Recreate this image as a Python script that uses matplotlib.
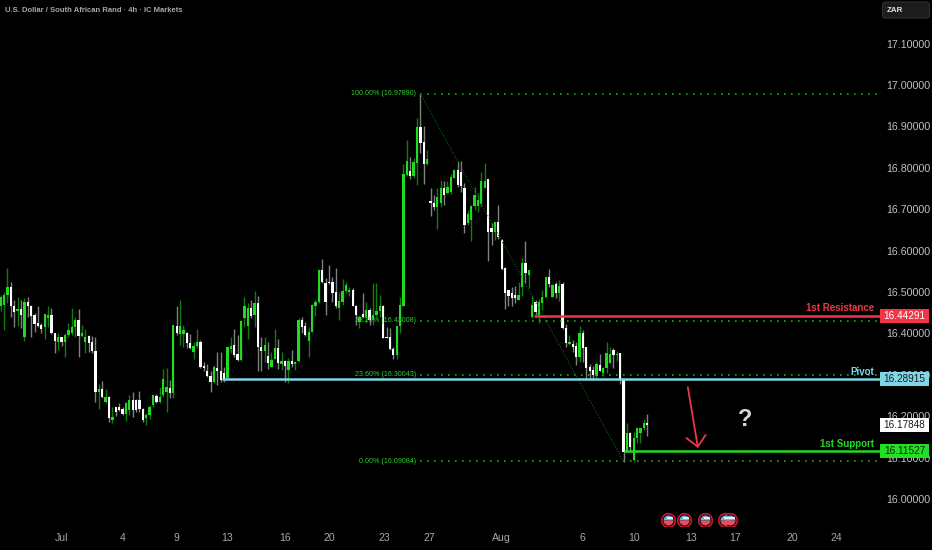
import matplotlib
matplotlib.use("Agg")
import matplotlib.pyplot as plt
from matplotlib.patches import Rectangle, FancyBboxPatch
from matplotlib.transforms import IdentityTransform
import numpy as np

plt.rcParams['font.family'] = ['Liberation Sans', 'DejaVu Sans']

# 4h candles, one value per bar
opens = [16.465,16.469,16.493,16.513,16.465,16.453,16.458,16.392,16.475,16.465,
         16.444,16.424,16.420,16.415,16.436,16.444,16.400,16.380,16.392,16.378,
         16.396,16.402,16.416,16.432,16.394,16.380,16.394,16.378,16.358,16.259,
         16.266,16.234,16.246,16.191,16.221,16.223,16.217,16.205,16.215,16.238,
         16.238,16.238,16.217,16.195,16.203,16.227,16.249,16.235,16.251,16.259,
         16.267,16.255,16.418,16.399,16.399,16.402,16.376,16.356,16.370,16.380,
         16.321,16.310,16.297,16.283,16.316,16.308,16.305,16.292,16.362,16.372,
         16.350,16.336,16.436,16.418,16.461,16.444,16.473,16.368,16.358,16.345,
         16.318,16.337,16.364,16.326,16.334,16.312,16.334,16.326,16.334,16.432,
         16.418,16.382,16.404,16.465,16.477,16.552,16.521,16.525,16.523,16.501,
         16.461,16.477,16.503,16.501,16.505,16.467,16.428,16.447,16.440,16.457,
         16.432,16.444,16.453,16.467,16.392,16.391,16.362,16.348,16.418,16.466,
         16.783,16.793,16.779,16.812,16.898,16.862,16.809,16.720,16.716,16.706,
         16.714,16.750,16.738,16.742,16.776,16.795,16.791,16.750,16.666,16.674,
         16.708,16.708,16.713,16.750,16.772,16.654,16.646,16.670,16.626,16.557,
         16.505,16.497,16.493,16.481,16.513,16.571,16.541,16.440,16.477,16.444,
         16.474,16.487,16.537,16.489,16.519,16.497,16.519,16.412,16.374,16.374,
         16.370,16.344,16.402,16.366,16.318,16.312,16.296,16.324,16.304,16.316,
         16.328,16.360,16.348,16.352,16.288,16.117,16.160,16.093,16.147,16.159,
         16.171,16.183]
highs = [16.493,16.501,16.557,16.525,16.481,16.489,16.481,16.485,16.489,16.469,
         16.450,16.465,16.424,16.447,16.466,16.461,16.402,16.400,16.392,16.400,
         16.424,16.461,16.439,16.458,16.420,16.410,16.396,16.394,16.392,16.278,
         16.284,16.266,16.249,16.223,16.223,16.233,16.223,16.235,16.251,16.259,
         16.241,16.262,16.219,16.207,16.227,16.254,16.254,16.271,16.314,16.316,
         16.287,16.421,16.465,16.481,16.420,16.404,16.399,16.380,16.410,16.384,
         16.332,16.326,16.308,16.324,16.356,16.356,16.320,16.368,16.391,16.411,
         16.396,16.432,16.489,16.473,16.481,16.502,16.491,16.391,16.391,16.378,
         16.356,16.410,16.386,16.356,16.336,16.340,16.360,16.334,16.436,16.440,
         16.428,16.415,16.471,16.481,16.555,16.579,16.533,16.565,16.535,16.559,
         16.501,16.531,16.523,16.511,16.509,16.469,16.444,16.497,16.477,16.461,
         16.521,16.521,16.493,16.469,16.415,16.412,16.368,16.418,16.489,16.809,
         16.867,16.825,16.823,16.920,16.979,16.901,16.843,16.751,16.734,16.751,
         16.771,16.767,16.767,16.784,16.796,16.816,16.816,16.763,16.697,16.710,
         16.753,16.738,16.791,16.811,16.772,16.666,16.670,16.710,16.627,16.561,
         16.505,16.511,16.515,16.525,16.581,16.622,16.553,16.490,16.481,16.482,
         16.506,16.539,16.555,16.519,16.523,16.529,16.523,16.423,16.396,16.384,
         16.378,16.418,16.408,16.366,16.326,16.321,16.332,16.350,16.320,16.378,
         16.368,16.364,16.358,16.352,16.289,16.183,16.163,16.163,16.175,16.171,
         16.193,16.205]
lows = [16.453,16.408,16.473,16.440,16.415,16.418,16.412,16.382,16.440,16.392,
        16.404,16.415,16.400,16.386,16.415,16.399,16.353,16.360,16.370,16.344,
        16.392,16.396,16.392,16.344,16.391,16.353,16.356,16.352,16.235,16.217,
        16.245,16.231,16.187,16.183,16.200,16.213,16.203,16.189,16.203,16.199,
        16.211,16.211,16.187,16.179,16.192,16.223,16.231,16.231,16.247,16.211,
        16.243,16.243,16.396,16.372,16.368,16.364,16.362,16.337,16.364,16.316,
        16.308,16.294,16.259,16.279,16.275,16.283,16.283,16.292,16.352,16.344,
        16.334,16.334,16.416,16.386,16.436,16.415,16.308,16.308,16.332,16.313,
        16.318,16.337,16.313,16.312,16.283,16.279,16.320,16.312,16.332,16.400,
        16.394,16.342,16.404,16.442,16.473,16.521,16.444,16.519,16.477,16.461,
        16.432,16.469,16.498,16.490,16.465,16.420,16.412,16.436,16.424,16.420,
        16.420,16.440,16.440,16.388,16.388,16.360,16.337,16.337,16.402,16.466,
        16.779,16.772,16.775,16.759,16.835,16.761,16.807,16.684,16.698,16.652,
        16.705,16.710,16.737,16.737,16.775,16.753,16.742,16.643,16.662,16.622,
        16.698,16.694,16.708,16.750,16.576,16.614,16.626,16.627,16.553,16.458,
        16.465,16.466,16.474,16.481,16.490,16.521,16.509,16.436,16.444,16.426,
        16.457,16.485,16.513,16.487,16.485,16.479,16.411,16.366,16.372,16.356,
        16.324,16.332,16.332,16.287,16.287,16.287,16.287,16.308,16.297,16.304,
        16.328,16.316,16.334,16.278,16.090,16.114,16.117,16.090,16.136,16.136,
        16.167,16.151]
closes = [16.489,16.493,16.513,16.465,16.451,16.458,16.444,16.475,16.465,16.442,
          16.423,16.418,16.410,16.446,16.444,16.400,16.382,16.392,16.380,16.396,
          16.407,16.416,16.432,16.394,16.400,16.392,16.376,16.358,16.259,16.266,
          16.247,16.246,16.195,16.199,16.211,16.215,16.205,16.231,16.239,16.215,
          16.215,16.217,16.191,16.203,16.223,16.251,16.235,16.247,16.289,16.271,
          16.255,16.420,16.400,16.418,16.408,16.376,16.364,16.370,16.380,16.320,
          16.316,16.296,16.283,16.318,16.308,16.287,16.287,16.366,16.370,16.348,
          16.336,16.430,16.465,16.461,16.442,16.473,16.368,16.358,16.372,16.329,
          16.336,16.364,16.328,16.334,16.321,16.334,16.326,16.332,16.432,16.415,
          16.396,16.404,16.469,16.475,16.553,16.525,16.477,16.521,16.497,16.465,
          16.478,16.503,16.517,16.505,16.466,16.444,16.439,16.439,16.457,16.432,
          16.444,16.455,16.467,16.388,16.388,16.362,16.348,16.418,16.469,16.785,
          16.816,16.779,16.815,16.898,16.859,16.809,16.821,16.716,16.706,16.730,
          16.750,16.734,16.753,16.777,16.795,16.759,16.756,16.662,16.688,16.708,
          16.734,16.722,16.767,16.767,16.646,16.646,16.670,16.634,16.555,16.497,
          16.490,16.485,16.485,16.493,16.571,16.547,16.552,16.469,16.452,16.477,
          16.487,16.537,16.519,16.517,16.497,16.515,16.412,16.376,16.380,16.368,
          16.344,16.402,16.364,16.316,16.308,16.300,16.326,16.308,16.316,16.352,
          16.350,16.348,16.350,16.289,16.113,16.160,16.126,16.147,16.172,16.171,
          16.184,16.178]

price_ticks = [16.0,16.1,16.2,16.3,16.4,16.5,16.6,16.7,16.8,16.9,17.0,17.1]
date_pos = [18,36,52,67,84,97,113.5,126.5,148,172,187,204,217,234,247]
date_labels = ["Jul","4","9","13","16","20","23","27","Aug","6","10","13","17","20","24"]

fib_levels = [16.97890,16.43008,16.30043,16.09084]
fib_pcts = ["100.00%","38.20%","23.60%","0.00%"]

resistance = 16.44291
pivot = 16.28915
support = 16.11527
last_price = 16.17848

event_bars = [197,202,208,213.9,215.4]

GREEN = "#20dc20"
RED = "#f23645"
CYAN = "#7fd6e6"
BG = "#000000"

PX_PRICE = 0.0024155   # price per pixel
BAR_PX = 3.385

fig = plt.figure(figsize=(9.32,5.5), dpi=100, facecolor=BG)
ax = fig.add_axes([0, 24/550, 880/932, 526/550], facecolor=BG)
ax.set_xlim(-0.2, 880/BAR_PX-0.2)
ax.set_ylim(17.2053-526*PX_PRICE, 17.2053)

x = np.arange(len(opens))
o = np.array(opens)
c = np.array(closes)
up = c >= o
wick_cols = np.where(up, "#0f7d0f", "#808080")
body_cols = np.where(up, GREEN, "#ffffff")
ax.vlines(x, lows, highs, colors=wick_cols, linewidth=1.0, zorder=2)
ax.bar(x, np.abs(c-o), bottom=np.minimum(o,c), width=0.68, color=body_cols, linewidth=0, zorder=3)

# fib levels
fib_start = 124
fib_end = 259
for lvl, pct in zip(fib_levels, fib_pcts):
    ax.plot([fib_start,fib_end],[lvl,lvl], color="#1fa81f", linewidth=1.2, linestyle=(0,(1,3.2)), zorder=4)
    ax.text(fib_start-1.3, lvl, "%s (%.5f)" % (pct,lvl), color="#2ad02a", fontsize=5.1,
            ha="right", va="center", zorder=6)
ax.plot([124,184],[fib_levels[0],fib_levels[3]], color="#0d6a0d", linewidth=0.8, linestyle=(0,(1,1.5)), zorder=4)

# support / resistance
ax.hlines(resistance, 157.5, 260, color=RED, linewidth=1.8, zorder=5)
ax.hlines(pivot, 65.5, 260, color=CYAN, linewidth=1.8, zorder=5)
ax.hlines(support, 184, 260, color=GREEN, linewidth=1.8, zorder=5)
ax.text(258, resistance+0.018, "1st Resistance", color=RED, fontsize=7, fontweight="bold", ha="right", va="center", zorder=6)
ax.text(258, pivot+0.018, "Pivot", color=CYAN, fontsize=7, fontweight="bold", ha="right", va="center", zorder=6)
ax.text(258, support+0.018, "1st Support", color=GREEN, fontsize=7, fontweight="bold", ha="right", va="center", zorder=6)

# axes
for s in ax.spines.values():
    s.set_visible(False)
ax.yaxis.tick_right()
ax.set_yticks(price_ticks)
ax.set_yticklabels(["%.5f" % p for p in price_ticks])
ax.set_xticks(date_pos)
ax.set_xticklabels(date_labels)
ax.tick_params(axis="y", length=0, pad=4.5, labelsize=7.7, labelcolor="#c0c0c0")
ax.tick_params(axis="x", length=0, pad=5, labelsize=7.6, labelcolor="#a8a8a8")

# price boxes
trans = ax.get_yaxis_transform()
box_h = 14*PX_PRICE
boxes = [(resistance,RED,"#ffffff"),(pivot,CYAN,"#1a1a1a"),(last_price,"#ffffff","#1a1a1a"),(support,"#22e022","#1a1a1a")]
for price, col, tcol in boxes:
    ax.add_patch(Rectangle((1.0, price-box_h/2), 49/880, box_h, transform=trans, facecolor=col,
                           edgecolor="none", clip_on=False, zorder=8))
    ax.text(1+24.5/880, price, "%.5f" % price, transform=trans, color=tcol, fontsize=7.2, ha="center", va="center",
            clip_on=False, zorder=9)

# projected move
ax.annotate("", xy=(206, 16.123), xytext=(203, 16.270),
            arrowprops=dict(arrowstyle="->,head_length=0.75,head_width=0.7", mutation_scale=10,
                            color=RED, linewidth=1.3, shrinkA=0, shrinkB=0), zorder=7)
ax.text(220, 16.192, "?", color="#d1d4dc", fontsize=17, fontweight="bold", ha="center", va="center", zorder=7)

# economic event markers along the bottom
ev_y = [15.949]*len(event_bars)
ax.scatter(event_bars, ev_y, s=95, facecolor="#000000", edgecolor="#b81c2c", linewidth=1.3, zorder=6)
for bar in event_bars:
    ax.plot([bar],[15.949], "o", markersize=7.2, fillstyle="top", markerfacecolor="#6cb4e8",
            markerfacecoloralt="#e4505c", markeredgewidth=0, zorder=7)
ax.scatter([b+0.6 for b in event_bars], [v+0.004 for v in ev_y], s=14, marker="_", color="#ffffff", linewidth=1.2, zorder=8)

# header
fig.text(5/932, 1-10/550, "U.S. Dollar / South African Rand \u00b7 4h \u00b7 IC Markets", color="#a8a8a8",
         fontsize=5.5, fontweight="bold", ha="left", va="center")
fig.add_artist(FancyBboxPatch((882.5,532), 47, 16, boxstyle="round,pad=0,rounding_size=3", transform=IdentityTransform(),
                              facecolor="#1c1c1c", edgecolor="#333333", linewidth=0.7))
fig.text(887/932, 1-10/550, "ZAR", color="#e0e0e0", fontsize=5.8, fontweight="bold", ha="left", va="center")

fig.savefig("out.png", dpi=100, facecolor=BG)
